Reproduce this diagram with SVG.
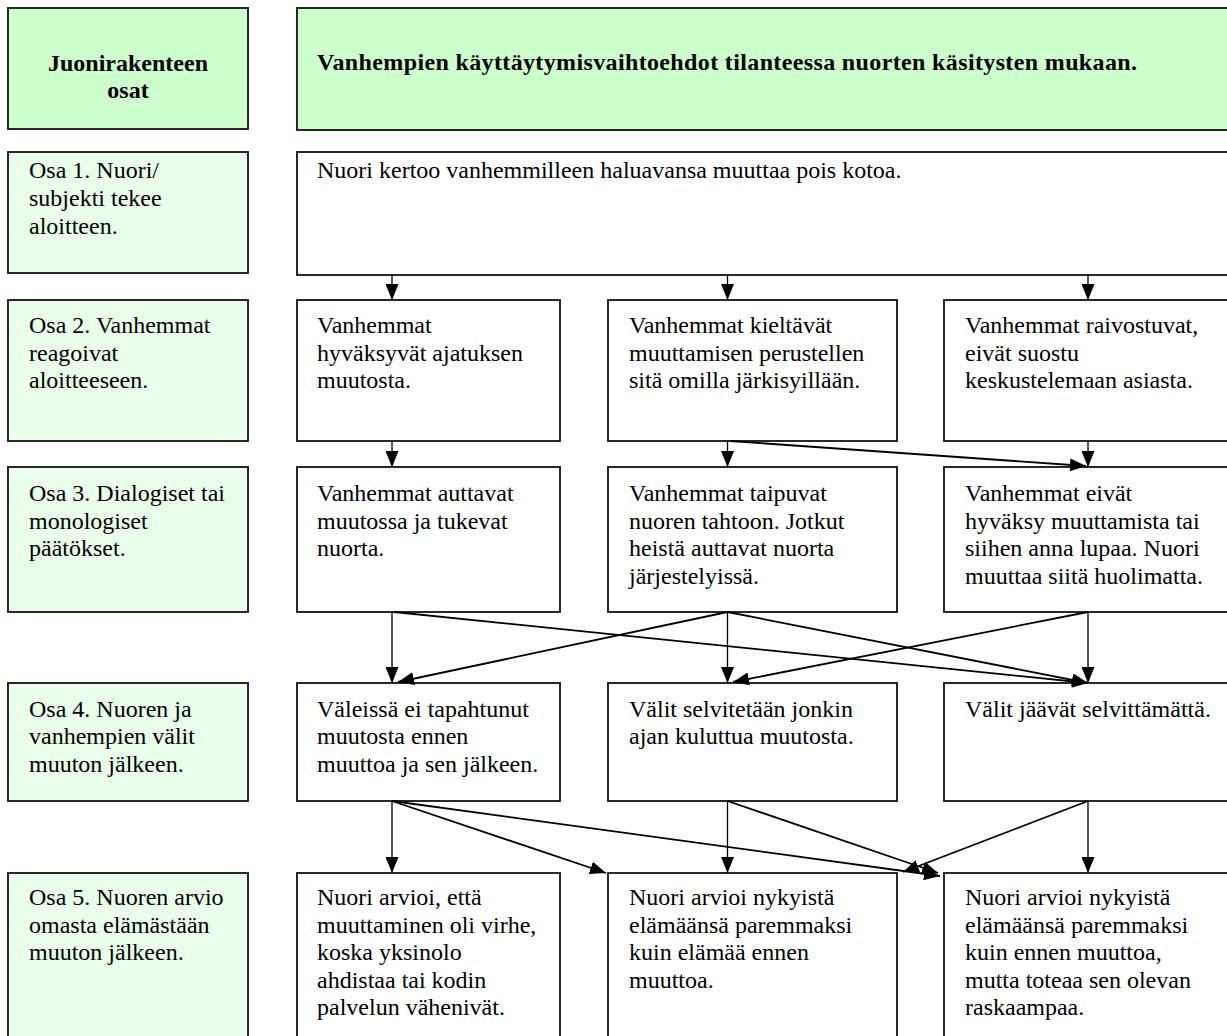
<svg xmlns="http://www.w3.org/2000/svg" width="1227" height="1036" viewBox="0 0 1227 1036">
<style>
text{font-family:'Liberation Serif','Times New Roman','DejaVu Serif',serif;font-size:24px;fill:#000}
.b{font-weight:bold}
.hd{fill:#ccffcc;stroke:#111;stroke-width:1.8}
.lc{fill:#e9ffe9;stroke:#111;stroke-width:1.8}
.bx{fill:#fff;stroke:#111;stroke-width:1.8}
.v{stroke:#000;stroke-width:1.3;fill:none;marker-end:url(#ah)}
.d{stroke:#000;stroke-width:1.8;fill:none;marker-end:url(#ah)}
</style>
<defs>
<marker id="ah" markerUnits="userSpaceOnUse" markerWidth="16" markerHeight="13" refX="16" refY="6.5" orient="auto">
<path d="M0,0 L16,6.5 L0,13 z" fill="#000"/>
</marker>
</defs>
<rect width="1227" height="1036" fill="#fff"/>
<g font-family="Liberation Serif, DejaVu Serif, serif" font-size="24">

<g id="h-left"><rect class="hd" x="8" y="8" width="240" height="121"/>
<text class="b" text-anchor="middle"><tspan x="128" y="71">Juonirakenteen</tspan><tspan x="128" y="97.5">osat</tspan></text></g>
<g id="h-right"><rect class="hd" x="297" y="8" width="945" height="122"/>
<text class="b" x="317" y="70" textLength="820" lengthAdjust="spacing">Vanhempien käyttäytymisvaihtoehdot tilanteessa nuorten käsitysten mukaan.</text></g>

<g id="osa1"><rect class="lc" x="8" y="152" width="240" height="121"/>
<text><tspan x="29" y="178">Osa 1. Nuori/</tspan><tspan x="29" dy="28">subjekti tekee</tspan><tspan x="29" dy="28">aloitteen.</tspan></text></g>
<g id="r1"><rect class="bx" x="297" y="152" width="945" height="123"/>
<text x="317" y="178">Nuori kertoo vanhemmilleen haluavansa muuttaa pois kotoa.</text></g>

<g id="osa2"><rect class="lc" x="8" y="300" width="240" height="141"/>
<text><tspan x="29" y="333">Osa 2. Vanhemmat</tspan><tspan x="29" dy="27.5">reagoivat</tspan><tspan x="29" dy="27.5">aloitteeseen.</tspan></text></g>
<g id="r2a"><rect class="bx" x="297" y="300" width="263" height="141"/>
<text><tspan x="317" y="333">Vanhemmat</tspan><tspan x="317" dy="27.5">hyväksyvät ajatuksen</tspan><tspan x="317" dy="27.5">muutosta.</tspan></text></g>
<g id="r2b"><rect class="bx" x="608" y="300" width="289" height="141"/>
<text><tspan x="629" y="333">Vanhemmat kieltävät</tspan><tspan x="629" dy="27.5">muuttamisen perustellen</tspan><tspan x="629" dy="27.5">sitä omilla järkisyillään.</tspan></text></g>
<g id="r2c"><rect class="bx" x="944" y="300" width="298" height="141"/>
<text><tspan x="965" y="333">Vanhemmat raivostuvat,</tspan><tspan x="965" dy="27.5">eivät suostu</tspan><tspan x="965" dy="27.5">keskustelemaan asiasta.</tspan></text></g>

<g id="osa3"><rect class="lc" x="8" y="467" width="240" height="145"/>
<text><tspan x="29" y="501">Osa 3. Dialogiset tai</tspan><tspan x="29" dy="27.5">monologiset</tspan><tspan x="29" dy="27.5">päätökset.</tspan></text></g>
<g id="r3a"><rect class="bx" x="297" y="467" width="263" height="145"/>
<text><tspan x="317" y="501">Vanhemmat auttavat</tspan><tspan x="317" dy="27.5">muutossa ja tukevat</tspan><tspan x="317" dy="27.5">nuorta.</tspan></text></g>
<g id="r3b"><rect class="bx" x="608" y="467" width="289" height="145"/>
<text><tspan x="629" y="501">Vanhemmat taipuvat</tspan><tspan x="629" dy="27.5">nuoren tahtoon. Jotkut</tspan><tspan x="629" dy="27.5">heistä auttavat nuorta</tspan><tspan x="629" dy="27.5">järjestelyissä.</tspan></text></g>
<g id="r3c"><rect class="bx" x="944" y="467" width="298" height="145"/>
<text><tspan x="965" y="501">Vanhemmat eivät</tspan><tspan x="965" dy="27.5">hyväksy muuttamista tai</tspan><tspan x="965" dy="27.5">siihen anna lupaa. Nuori</tspan><tspan x="965" dy="27.5">muuttaa siitä huolimatta.</tspan></text></g>

<g id="osa4"><rect class="lc" x="8" y="683" width="240" height="118"/>
<text><tspan x="29" y="716.5">Osa 4. Nuoren ja</tspan><tspan x="29" dy="27.5">vanhempien välit</tspan><tspan x="29" dy="27.5">muuton jälkeen.</tspan></text></g>
<g id="r4a"><rect class="bx" x="297" y="683" width="263" height="118"/>
<text><tspan x="317" y="716.5">Väleissä ei tapahtunut</tspan><tspan x="317" dy="27.5">muutosta ennen</tspan><tspan x="317" dy="27.5">muuttoa ja sen jälkeen.</tspan></text></g>
<g id="r4b"><rect class="bx" x="608" y="683" width="289" height="118"/>
<text><tspan x="629" y="716.5">Välit selvitetään jonkin</tspan><tspan x="629" dy="27.5">ajan kuluttua muutosta.</tspan></text></g>
<g id="r4c"><rect class="bx" x="944" y="683" width="298" height="118"/>
<text x="965" y="716.5">Välit jäävät selvittämättä.</text></g>

<g id="osa5"><rect class="lc" x="8" y="873" width="240" height="180"/>
<text><tspan x="29" y="905">Osa 5. Nuoren arvio</tspan><tspan x="29" dy="27.5">omasta elämästään</tspan><tspan x="29" dy="27.5">muuton jälkeen.</tspan></text></g>
<g id="r5a"><rect class="bx" x="297" y="873" width="263" height="180"/>
<text><tspan x="317" y="905">Nuori arvioi, että</tspan><tspan x="317" dy="27.5">muuttaminen oli virhe,</tspan><tspan x="317" dy="27.5">koska yksinolo</tspan><tspan x="317" dy="27.5">ahdistaa tai kodin</tspan><tspan x="317" dy="27.5">palvelun vähenivät.</tspan></text></g>
<g id="r5b"><rect class="bx" x="608" y="873" width="289" height="180"/>
<text><tspan x="629" y="905">Nuori arvioi nykyistä</tspan><tspan x="629" dy="27.5">elämäänsä paremmaksi</tspan><tspan x="629" dy="27.5">kuin elämää ennen</tspan><tspan x="629" dy="27.5">muuttoa.</tspan></text></g>
<g id="r5c"><rect class="bx" x="944" y="873" width="298" height="180"/>
<text><tspan x="965" y="905">Nuori arvioi nykyistä</tspan><tspan x="965" dy="27.5">elämäänsä paremmaksi</tspan><tspan x="965" dy="27.5">kuin ennen muuttoa,</tspan><tspan x="965" dy="27.5">mutta toteaa sen olevan</tspan><tspan x="965" dy="27.5">raskaampaa.</tspan></text></g>
</g>

<g id="connectors">
<line class="v" x1="392" y1="275" x2="392" y2="300"/>
<line class="v" x1="727.5" y1="275" x2="727.5" y2="300"/>
<line class="v" x1="1088" y1="275" x2="1088" y2="300"/>

<line class="v" x1="392" y1="441" x2="392" y2="467"/>
<line class="v" x1="727.5" y1="441" x2="727.5" y2="467"/>
<line class="v" x1="1088" y1="441" x2="1088" y2="467"/>
<line class="d" x1="730" y1="441" x2="1086" y2="466"/>

<line class="v" x1="392" y1="612" x2="392" y2="683"/>
<line class="d" x1="394" y1="612" x2="1088" y2="683"/>
<line class="d" x1="727.5" y1="612" x2="398" y2="682"/>
<line class="v" x1="727.5" y1="612" x2="727.5" y2="683"/>
<line class="d" x1="727.5" y1="612" x2="1088" y2="683"/>
<line class="v" x1="1088" y1="612" x2="1088" y2="683"/>
<line class="d" x1="1088" y1="612" x2="733" y2="682"/>

<line class="v" x1="392" y1="801" x2="392" y2="873"/>
<line class="d" x1="392" y1="801" x2="606" y2="873"/>
<line class="d" x1="392" y1="801" x2="940" y2="876"/>
<line class="v" x1="727.5" y1="801" x2="727.5" y2="873"/>
<line class="d" x1="727.5" y1="801" x2="938" y2="873"/>
<line class="v" x1="1088" y1="801" x2="1088" y2="873"/>
<line class="d" x1="1088" y1="801" x2="903" y2="872"/>
</g>
</svg>
